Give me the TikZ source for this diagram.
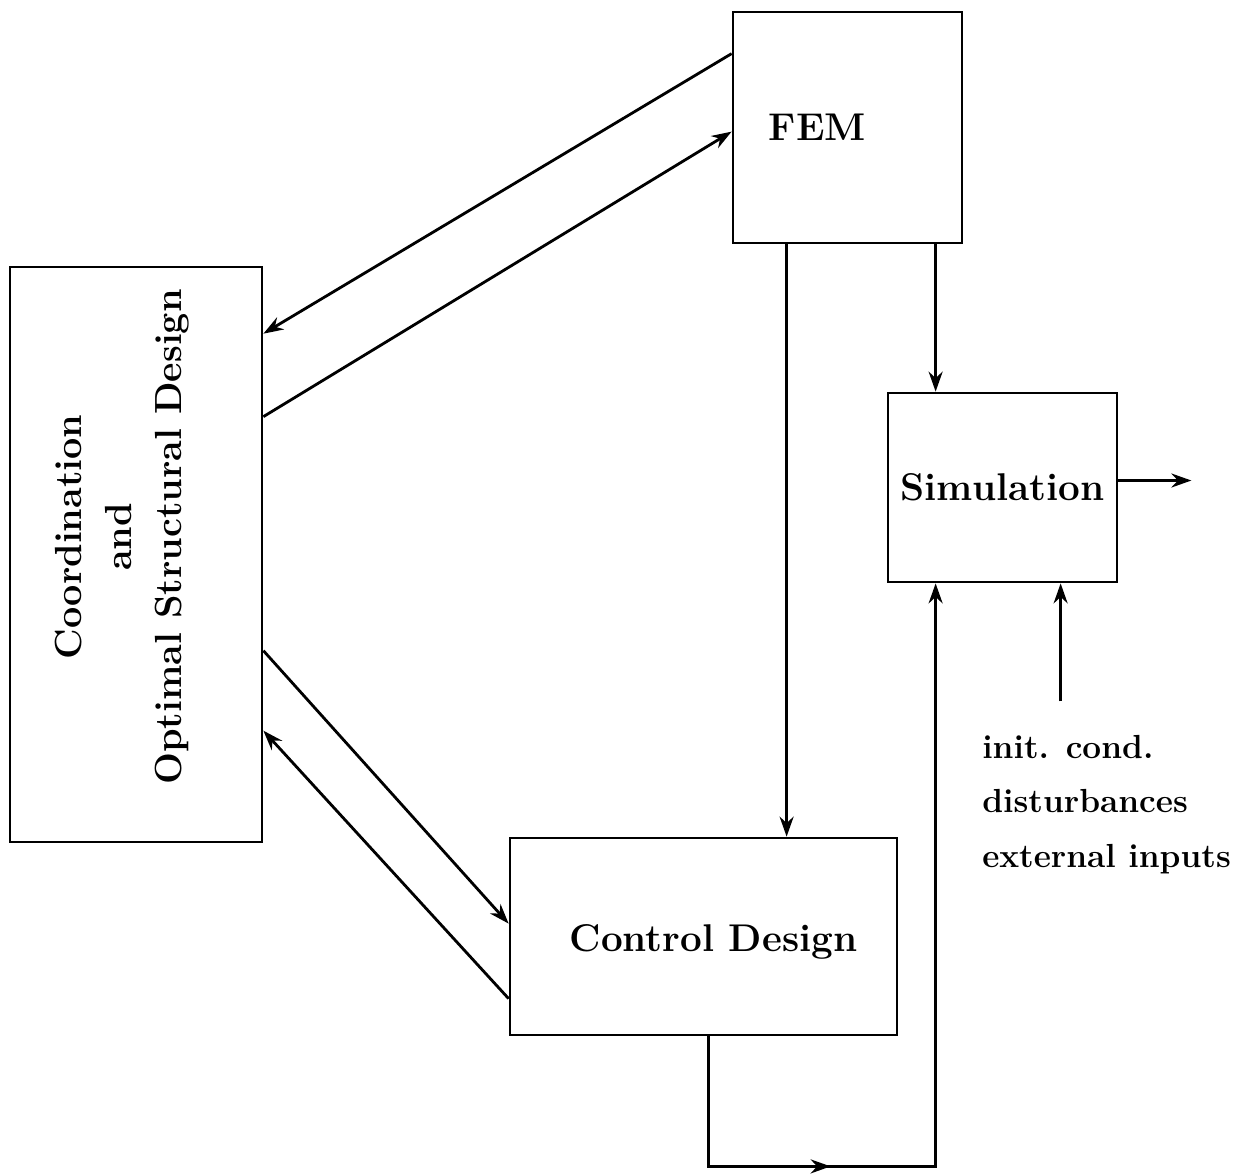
\documentclass[tikz,border=0pt]{standalone}
\usetikzlibrary{arrows.meta, positioning, calc}

\begin{document}
\begin{tikzpicture}[x=0.02cm, y=-0.02cm, line width=1.6pt,
        font=\bfseries\fontsize{22}{28.5}\selectfont,
        >={Stealth[length=4mm, width=2.8mm]},
        blk/.style={draw, line width=1.6pt, inner sep=0pt, align=center},
        ar/.style={->, line width=1.6pt}]
        \useasboundingbox (0,0) rectangle (1239,1173);
        % blocks
        \node[blk, minimum width=4.58cm, minimum height=4.62cm,
            label={[xshift=-0.6cm]center:FEM}] (fem) at (847.5,127.5) {};
        \node[blk, minimum width=5.04cm, minimum height=11.5cm] (coord) at (136,554.5) {};
        \node[rotate=90, align=center, font=\bfseries\fontsize{21.5}{28.5}\selectfont] (coordtxt) at (122,537)
            {Coordination\\and\\Optimal Structural Design};
        \node[blk, minimum width=4.58cm, minimum height=3.78cm] (sim) at (1002.5,487.5) {Simulation};
        \node[blk, minimum width=7.74cm, minimum height=3.94cm,
            label={[xshift=0.2cm, yshift=-0.1cm]center:Control Design}] (ctrl) at (703.5,936.5) {};
        \node[anchor=north west, align=left, font=\bfseries\fontsize{19}{31}\selectfont] (inp) at (975,728)
            {init. cond.\\disturbances\\external inputs};
        % coord <-> fem
        \draw[ar] ($(fem.north west)+(0,43)$) -- ($(coord.north east)+(0,68)$);
        \draw[ar] ($(coord.north east)+(0,151)$) -- ($(fem.north west)+(0,121)$);
        % coord <-> control
        \draw[ar] ($(coord.north east)+(0,385)$) -- ($(ctrl.north west)+(0,87)$);
        \draw[ar] ($(ctrl.north west)+(0,162)$) -- ($(coord.north east)+(0,465)$);
        % fem -> control, fem -> sim
        \coordinate (f1) at ($(fem.south west)+(55,0)$);
        \draw[ar] (f1) -- (f1 |- ctrl.north);
        \coordinate (s1) at ($(sim.north west)+(49,0)$);
        \draw[ar] (s1 |- fem.south) -- (s1);
        % control -> sim
        \coordinate (s2) at ($(sim.south west)+(49,0)$);
        \coordinate (c1) at ($(ctrl.south west)+(200,0)$);
        \coordinate (c2) at ($(c1)+(0,130)$);
        \draw[ar] (c1) -- (c2) -- ($(c2)+(122,0)$);
        \draw[ar] ($(c2)+(115,0)$) -- (c2 -| s2) -- (s2);
        % inputs, output
        \coordinate (s3) at ($(sim.south west)+(174,0)$);
        \draw[ar] ($(s3)+(0,118)$) -- (s3);
        \coordinate (out) at ($(sim.east)+(73,-7)$);
        \draw[ar] (sim.east |- out) -- (out);
    \end{tikzpicture}
\end{document}
